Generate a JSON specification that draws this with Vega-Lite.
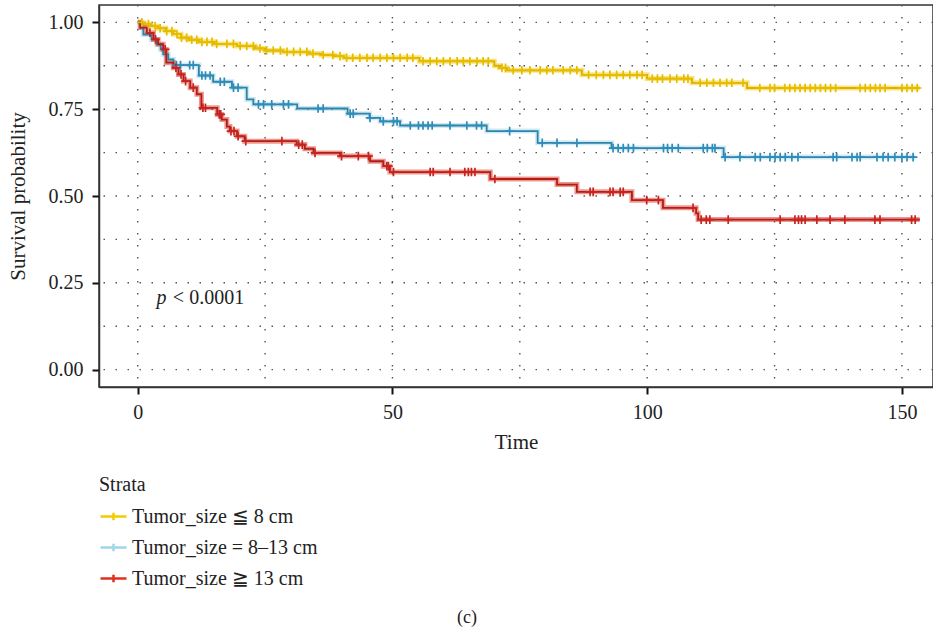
{
  "$schema": "https://vega.github.io/schema/vega-lite/v6.json",
  "autosize": {"type": "none"},
  "width": 834,
  "height": 382,
  "padding": {"left": 99, "top": 5, "right": 0, "bottom": 246},
  "background": "white",
  "config": {
    "view": {"stroke": "#333333", "strokeWidth": 1.5},
    "font": "Liberation Serif",
    "axis": {
      "labelFont": "Liberation Serif", "labelFontSize": 20, "labelColor": "#222222",
      "titleFont": "Liberation Serif", "titleFontSize": 21, "titleFontWeight": "normal", "titleColor": "#222222",
      "domainColor": "#333333", "domainWidth": 1.5, "tickColor": "#111111", "tickWidth": 2, "tickSize": 7, "grid": false
    }
  },
  "title": {"text": "(c)", "orient": "bottom", "anchor": "middle", "frame": "group", "dx": -49, "offset": 20, "font": "Liberation Serif", "fontSize": 18, "fontWeight": "normal", "color": "#222222"},
  "datasets": {
    "curves": [
      {"g":"a","t":0,"p":1},{"g":"a","t":1,"p":0.995},{"g":"a","t":2.5,"p":0.989},{"g":"a","t":4,"p":0.983},{"g":"a","t":5.5,"p":0.975},{"g":"a","t":7,"p":0.966},{"g":"a","t":8.5,"p":0.956},{"g":"a","t":10,"p":0.95},{"g":"a","t":12,"p":0.944},{"g":"a","t":15,"p":0.938},{"g":"a","t":19.5,"p":0.932},{"g":"a","t":23,"p":0.925},{"g":"a","t":25,"p":0.919},{"g":"a","t":28.5,"p":0.915},{"g":"a","t":33.5,"p":0.91},{"g":"a","t":36,"p":0.906},{"g":"a","t":38.5,"p":0.903},{"g":"a","t":40.5,"p":0.898},{"g":"a","t":55.3,"p":0.888},{"g":"a","t":70,"p":0.875},{"g":"a","t":71,"p":0.869},{"g":"a","t":72.5,"p":0.862},{"g":"a","t":87.2,"p":0.849},{"g":"a","t":100,"p":0.838},{"g":"a","t":108.8,"p":0.826},{"g":"a","t":119.6,"p":0.811},{"g":"a","t":153.5,"p":0.811},
      {"g":"b","t":0,"p":1},{"g":"b","t":0.5,"p":0.985},{"g":"b","t":1.1,"p":0.965},{"g":"b","t":2.7,"p":0.951},{"g":"b","t":3.7,"p":0.937},{"g":"b","t":4.5,"p":0.922},{"g":"b","t":5,"p":0.908},{"g":"b","t":6,"p":0.893},{"g":"b","t":7,"p":0.877},{"g":"b","t":12,"p":0.847},{"g":"b","t":14.8,"p":0.829},{"g":"b","t":18.5,"p":0.812},{"g":"b","t":21.4,"p":0.778},{"g":"b","t":22.7,"p":0.764},{"g":"b","t":31.3,"p":0.752},{"g":"b","t":41.2,"p":0.737},{"g":"b","t":45.5,"p":0.725},{"g":"b","t":47.6,"p":0.715},{"g":"b","t":51.5,"p":0.703},{"g":"b","t":68.5,"p":0.687},{"g":"b","t":78.5,"p":0.653},{"g":"b","t":93,"p":0.638},{"g":"b","t":115,"p":0.612},{"g":"b","t":152.6,"p":0.612},
      {"g":"c","t":0,"p":1},{"g":"c","t":0.5,"p":0.985},{"g":"c","t":1.8,"p":0.97},{"g":"c","t":3.1,"p":0.951},{"g":"c","t":4,"p":0.937},{"g":"c","t":5,"p":0.922},{"g":"c","t":5.6,"p":0.884},{"g":"c","t":7,"p":0.869},{"g":"c","t":8,"p":0.85},{"g":"c","t":9,"p":0.831},{"g":"c","t":10.3,"p":0.812},{"g":"c","t":11.6,"p":0.793},{"g":"c","t":12.5,"p":0.754},{"g":"c","t":15.6,"p":0.735},{"g":"c","t":16.5,"p":0.72},{"g":"c","t":17.5,"p":0.7},{"g":"c","t":18.1,"p":0.687},{"g":"c","t":19.5,"p":0.672},{"g":"c","t":21,"p":0.658},{"g":"c","t":31.2,"p":0.648},{"g":"c","t":32.8,"p":0.636},{"g":"c","t":34.5,"p":0.624},{"g":"c","t":39.7,"p":0.615},{"g":"c","t":45.6,"p":0.6},{"g":"c","t":48.2,"p":0.586},{"g":"c","t":49.5,"p":0.569},{"g":"c","t":69.2,"p":0.549},{"g":"c","t":82.3,"p":0.533},{"g":"c","t":86.2,"p":0.512},{"g":"c","t":97,"p":0.488},{"g":"c","t":103.1,"p":0.466},{"g":"c","t":109.6,"p":0.45},{"g":"c","t":110,"p":0.432},{"g":"c","t":153.5,"p":0.432}
    ],
    "censors": [
      {"g":"a","t":0.8,"p":1},{"g":"a","t":2.1,"p":0.995},{"g":"a","t":3.4,"p":0.989},{"g":"a","t":4.4,"p":0.983},{"g":"a","t":5.7,"p":0.975},{"g":"a","t":6.7,"p":0.975},{"g":"a","t":7.7,"p":0.966},{"g":"a","t":8.6,"p":0.956},{"g":"a","t":9.6,"p":0.956},{"g":"a","t":10.6,"p":0.95},{"g":"a","t":11.6,"p":0.95},{"g":"a","t":12.6,"p":0.944},{"g":"a","t":13.6,"p":0.944},{"g":"a","t":14.6,"p":0.944},{"g":"a","t":15.5,"p":0.938},{"g":"a","t":17.5,"p":0.938},{"g":"a","t":18.8,"p":0.938},{"g":"a","t":20.1,"p":0.932},{"g":"a","t":21.4,"p":0.932},{"g":"a","t":22.7,"p":0.932},{"g":"a","t":24,"p":0.925},{"g":"a","t":25.3,"p":0.919},{"g":"a","t":26.6,"p":0.919},{"g":"a","t":28,"p":0.919},{"g":"a","t":29.3,"p":0.915},{"g":"a","t":30.6,"p":0.915},{"g":"a","t":31.9,"p":0.915},{"g":"a","t":33.2,"p":0.915},{"g":"a","t":34.4,"p":0.91},{"g":"a","t":36.4,"p":0.906},{"g":"a","t":38.3,"p":0.906},{"g":"a","t":39.7,"p":0.903},
      {"g":"a","t":41,"p":0.898},{"g":"a","t":42.2,"p":0.898},{"g":"a","t":43.6,"p":0.898},{"g":"a","t":45,"p":0.898},{"g":"a","t":46.2,"p":0.898},{"g":"a","t":47.6,"p":0.898},{"g":"a","t":48.9,"p":0.898},{"g":"a","t":50.2,"p":0.898},{"g":"a","t":51.5,"p":0.898},{"g":"a","t":52.9,"p":0.898},{"g":"a","t":54,"p":0.898},
      {"g":"a","t":56,"p":0.888},{"g":"a","t":57.4,"p":0.888},{"g":"a","t":58.7,"p":0.888},{"g":"a","t":60,"p":0.888},{"g":"a","t":61.3,"p":0.888},{"g":"a","t":62.7,"p":0.888},{"g":"a","t":63.9,"p":0.888},{"g":"a","t":65.2,"p":0.888},{"g":"a","t":66.6,"p":0.888},{"g":"a","t":67.8,"p":0.888},{"g":"a","t":68.8,"p":0.888},
      {"g":"a","t":71.5,"p":0.869},{"g":"a","t":72.2,"p":0.869},
      {"g":"a","t":73.7,"p":0.862},{"g":"a","t":75.4,"p":0.862},{"g":"a","t":77,"p":0.862},{"g":"a","t":79,"p":0.862},{"g":"a","t":80.3,"p":0.862},{"g":"a","t":81.5,"p":0.862},{"g":"a","t":83.5,"p":0.862},{"g":"a","t":84.9,"p":0.862},{"g":"a","t":86.2,"p":0.862},
      {"g":"a","t":88.5,"p":0.849},{"g":"a","t":90,"p":0.849},{"g":"a","t":91.4,"p":0.849},{"g":"a","t":92.7,"p":0.849},{"g":"a","t":94,"p":0.849},{"g":"a","t":95.3,"p":0.849},{"g":"a","t":96.6,"p":0.849},{"g":"a","t":98,"p":0.849},{"g":"a","t":99,"p":0.849},
      {"g":"a","t":101,"p":0.838},{"g":"a","t":102,"p":0.838},{"g":"a","t":103,"p":0.838},{"g":"a","t":104.5,"p":0.838},{"g":"a","t":105.8,"p":0.838},{"g":"a","t":107.2,"p":0.838},{"g":"a","t":108,"p":0.838},
      {"g":"a","t":110.4,"p":0.826},{"g":"a","t":111.7,"p":0.826},{"g":"a","t":113,"p":0.826},{"g":"a","t":114.3,"p":0.826},{"g":"a","t":115.6,"p":0.826},{"g":"a","t":116.6,"p":0.826},{"g":"a","t":118.8,"p":0.826},
      {"g":"a","t":122.1,"p":0.811},{"g":"a","t":124.1,"p":0.811},{"g":"a","t":125,"p":0.811},{"g":"a","t":127,"p":0.811},{"g":"a","t":128,"p":0.811},{"g":"a","t":129,"p":0.811},{"g":"a","t":130,"p":0.811},{"g":"a","t":131,"p":0.811},{"g":"a","t":132,"p":0.811},{"g":"a","t":133,"p":0.811},{"g":"a","t":134,"p":0.811},{"g":"a","t":135,"p":0.811},{"g":"a","t":136,"p":0.811},{"g":"a","t":137,"p":0.811},{"g":"a","t":141.8,"p":0.811},{"g":"a","t":142.8,"p":0.811},{"g":"a","t":143.8,"p":0.811},{"g":"a","t":144.8,"p":0.811},{"g":"a","t":145.7,"p":0.811},{"g":"a","t":146.7,"p":0.811},{"g":"a","t":150,"p":0.811},{"g":"a","t":151,"p":0.811},{"g":"a","t":152,"p":0.811},{"g":"a","t":153,"p":0.811},
      {"g":"b","t":7.6,"p":0.877},{"g":"b","t":8.4,"p":0.877},{"g":"b","t":10.2,"p":0.877},{"g":"b","t":10.9,"p":0.877},{"g":"b","t":12.6,"p":0.847},{"g":"b","t":13.3,"p":0.847},{"g":"b","t":14.2,"p":0.847},{"g":"b","t":16.2,"p":0.829},{"g":"b","t":17,"p":0.829},{"g":"b","t":18.8,"p":0.812},{"g":"b","t":19.7,"p":0.812},{"g":"b","t":23.7,"p":0.764},{"g":"b","t":24.7,"p":0.764},{"g":"b","t":26.3,"p":0.764},{"g":"b","t":28.6,"p":0.764},{"g":"b","t":29.6,"p":0.764},{"g":"b","t":35.4,"p":0.752},{"g":"b","t":36.4,"p":0.752},{"g":"b","t":41.7,"p":0.737},{"g":"b","t":42.3,"p":0.737},{"g":"b","t":45.6,"p":0.725},{"g":"b","t":48.2,"p":0.715},{"g":"b","t":50.2,"p":0.715},{"g":"b","t":50.9,"p":0.715},
      {"g":"b","t":53.5,"p":0.703},{"g":"b","t":55.1,"p":0.703},{"g":"b","t":56,"p":0.703},{"g":"b","t":57,"p":0.703},{"g":"b","t":57.8,"p":0.703},{"g":"b","t":61.3,"p":0.703},{"g":"b","t":64.6,"p":0.703},{"g":"b","t":66.5,"p":0.703},{"g":"b","t":67.5,"p":0.703},{"g":"b","t":73,"p":0.687},{"g":"b","t":79.4,"p":0.653},{"g":"b","t":82.3,"p":0.653},{"g":"b","t":86.2,"p":0.653},
      {"g":"b","t":93.3,"p":0.638},{"g":"b","t":94.3,"p":0.638},{"g":"b","t":95.3,"p":0.638},{"g":"b","t":96.3,"p":0.638},{"g":"b","t":97.3,"p":0.638},{"g":"b","t":103.2,"p":0.638},{"g":"b","t":104,"p":0.638},{"g":"b","t":104.9,"p":0.638},{"g":"b","t":106.1,"p":0.638},{"g":"b","t":111,"p":0.638},{"g":"b","t":111.8,"p":0.638},{"g":"b","t":112.8,"p":0.638},{"g":"b","t":113.3,"p":0.638},
      {"g":"b","t":115.3,"p":0.612},{"g":"b","t":118.2,"p":0.612},{"g":"b","t":121.2,"p":0.612},{"g":"b","t":122.2,"p":0.612},{"g":"b","t":124.1,"p":0.612},{"g":"b","t":125.1,"p":0.612},{"g":"b","t":126.1,"p":0.612},{"g":"b","t":127.1,"p":0.612},{"g":"b","t":128.4,"p":0.612},{"g":"b","t":129.6,"p":0.612},{"g":"b","t":136.5,"p":0.612},{"g":"b","t":137.2,"p":0.612},{"g":"b","t":140.2,"p":0.612},{"g":"b","t":141.2,"p":0.612},{"g":"b","t":141.8,"p":0.612},{"g":"b","t":145.1,"p":0.612},{"g":"b","t":146.3,"p":0.612},{"g":"b","t":147.3,"p":0.612},{"g":"b","t":148.6,"p":0.612},{"g":"b","t":150,"p":0.612},{"g":"b","t":151,"p":0.612},{"g":"b","t":152.2,"p":0.612},
      {"g":"c","t":2.4,"p":0.97},{"g":"c","t":3.5,"p":0.951},{"g":"c","t":5.4,"p":0.922},{"g":"c","t":7.5,"p":0.869},{"g":"c","t":8.5,"p":0.85},{"g":"c","t":9.4,"p":0.831},{"g":"c","t":10.9,"p":0.812},{"g":"c","t":12.8,"p":0.754},{"g":"c","t":13.3,"p":0.754},{"g":"c","t":16,"p":0.735},{"g":"c","t":16.3,"p":0.735},{"g":"c","t":18.3,"p":0.687},{"g":"c","t":18.9,"p":0.687},{"g":"c","t":19.7,"p":0.672},{"g":"c","t":21.2,"p":0.658},{"g":"c","t":28.3,"p":0.658},{"g":"c","t":31.6,"p":0.648},{"g":"c","t":32.3,"p":0.648},{"g":"c","t":34.8,"p":0.624},{"g":"c","t":40,"p":0.615},{"g":"c","t":43.3,"p":0.615},{"g":"c","t":45.3,"p":0.615},{"g":"c","t":48.9,"p":0.586},{"g":"c","t":49.2,"p":0.586},
      {"g":"c","t":50.2,"p":0.569},{"g":"c","t":57.4,"p":0.569},{"g":"c","t":58,"p":0.569},{"g":"c","t":61.3,"p":0.569},{"g":"c","t":64.2,"p":0.569},{"g":"c","t":64.9,"p":0.569},{"g":"c","t":65.5,"p":0.569},{"g":"c","t":66.2,"p":0.569},{"g":"c","t":70.1,"p":0.549},{"g":"c","t":88.8,"p":0.512},{"g":"c","t":89.4,"p":0.512},{"g":"c","t":92.7,"p":0.512},{"g":"c","t":93.3,"p":0.512},{"g":"c","t":94.7,"p":0.512},{"g":"c","t":95.3,"p":0.512},{"g":"c","t":99.9,"p":0.488},{"g":"c","t":102.2,"p":0.488},{"g":"c","t":109,"p":0.466},
      {"g":"c","t":110.6,"p":0.432},{"g":"c","t":111.6,"p":0.432},{"g":"c","t":112.3,"p":0.432},{"g":"c","t":115.9,"p":0.432},{"g":"c","t":126.1,"p":0.432},{"g":"c","t":129,"p":0.432},{"g":"c","t":129.7,"p":0.432},{"g":"c","t":130.3,"p":0.432},{"g":"c","t":131,"p":0.432},{"g":"c","t":133.3,"p":0.432},{"g":"c","t":135.9,"p":0.432},{"g":"c","t":138.8,"p":0.432},{"g":"c","t":144.7,"p":0.432},{"g":"c","t":145.7,"p":0.432},{"g":"c","t":151.9,"p":0.432},{"g":"c","t":152.6,"p":0.432}
    ]
  },
  "layer": [
    {
      "data": {"values": [{"gx":0},{"gx":25},{"gx":50},{"gx":75},{"gx":100},{"gx":125},{"gx":150}]},
      "mark": {"type": "rule", "color": "#555555", "strokeWidth": 1.4, "strokeDash": [1.5, 10.5]},
      "encoding": {"x": {"field": "gx", "type": "quantitative", "scale": {"domain": [-7.6, 156.1], "nice": false, "zero": false}}}
    },
    {
      "data": {"values": [{"gy":0},{"gy":0.125},{"gy":0.25},{"gy":0.375},{"gy":0.5},{"gy":0.625},{"gy":0.75},{"gy":0.875},{"gy":1}]},
      "mark": {"type": "rule", "color": "#555555", "strokeWidth": 1.4, "strokeDash": [1.5, 10.5]},
      "encoding": {"y": {"field": "gy", "type": "quantitative", "scale": {"domain": [-0.05, 1.05], "nice": false, "zero": false}}}
    },
    {
      "data": {"name": "curves"},
      "mark": {"type": "line", "interpolate": "step-after", "strokeWidth": 5, "opacity": 0.5},
      "encoding": {
        "x": {"field": "t", "type": "quantitative", "title": "Time", "scale": {"domain": [-7.6, 156.1], "nice": false, "zero": false}, "axis": {"values": [0, 50, 100, 150], "labelPadding": 8, "titlePadding": 9}},
        "y": {"field": "p", "type": "quantitative", "title": "Survival probability", "scale": {"domain": [-0.05, 1.05], "nice": false, "zero": false}, "axis": {"values": [0, 0.25, 0.5, 0.75, 1], "format": ".2f", "labelPadding": 9, "titlePadding": 20}},
        "color": {
          "field": "g", "type": "nominal",
          "scale": {"domain": ["a", "b", "c"], "range": ["#F2CC00", "#9FD6EA", "#E0301E"]},
          "legend": {
            "title": "Strata", "orient": "none", "legendX": 0, "legendY": 470, "direction": "vertical",
            "titleFont": "Liberation Serif", "titleFontSize": 20, "titleFontWeight": "normal", "titleColor": "#222222", "titlePadding": 7,
            "labelFont": "Liberation Serif", "labelFontSize": 20, "labelColor": "#222222", "labelOffset": 4, "labelLimit": 0,
            "symbolType": "M-1,0H1M0,-0.28V0.28", "symbolSize": 676, "symbolStrokeWidth": 2.5, "symbolOpacity": 1, "rowPadding": 6,
            "labelExpr": "datum.value == 'a' ? 'Tumor_size ≦ 8 cm' : datum.value == 'b' ? 'Tumor_size = 8–13 cm' : 'Tumor_size ≧ 13 cm'"
          }
        }
      }
    },
    {
      "data": {"name": "curves"},
      "mark": {"type": "line", "interpolate": "step-after", "strokeWidth": 1.8},
      "encoding": {
        "x": {"field": "t", "type": "quantitative"},
        "y": {"field": "p", "type": "quantitative"},
        "color": {"field": "g", "type": "nominal", "scale": {"domain": ["a", "b", "c"], "range": ["#DDB000", "#2F82A8", "#B01E1A"]}, "legend": null}
      }
    },
    {
      "data": {"name": "censors"},
      "mark": {"type": "point", "shape": "M-1,0H1M0,-1V1", "filled": false, "size": 75, "strokeWidth": 1.7, "opacity": 1},
      "encoding": {
        "x": {"field": "t", "type": "quantitative"},
        "y": {"field": "p", "type": "quantitative"},
        "color": {"field": "g", "type": "nominal", "scale": {"domain": ["a", "b", "c"], "range": ["#E6BC00", "#2F8CB8", "#C42520"]}, "legend": null}
      }
    },
    {
      "data": {"values": [{"t": 3.7, "p": 0.19, "label": "p"}]},
      "mark": {"type": "text", "align": "left", "baseline": "alphabetic", "font": "Liberation Serif", "fontSize": 20, "fontStyle": "italic", "color": "#222222"},
      "encoding": {"x": {"field": "t", "type": "quantitative"}, "y": {"field": "p", "type": "quantitative"}, "text": {"field": "label"}}
    },
    {
      "data": {"values": [{"t": 6.9, "p": 0.19, "label": "< 0.0001"}]},
      "mark": {"type": "text", "align": "left", "baseline": "alphabetic", "font": "Liberation Serif", "fontSize": 20, "color": "#222222"},
      "encoding": {"x": {"field": "t", "type": "quantitative"}, "y": {"field": "p", "type": "quantitative"}, "text": {"field": "label"}}
    }
  ],
  "resolve": {"scale": {"color": "independent"}}
}
